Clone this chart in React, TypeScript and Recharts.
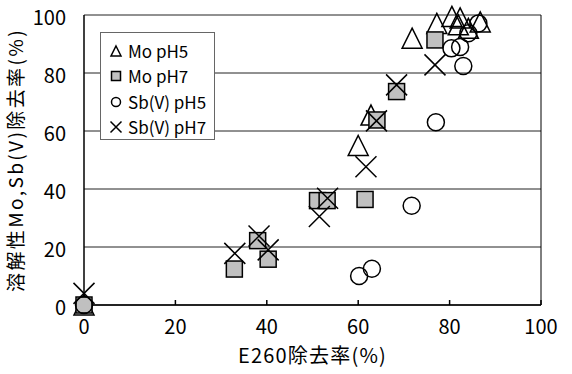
import React from 'react';
import { ScatterChart, Scatter, XAxis, YAxis, CartesianGrid, ReferenceLine, Label } from 'recharts';

const FONT = '"Noto Sans CJK JP", "Noto Sans", sans-serif';

// axis ticks
const xTicks = [0, 20, 40, 60, 80, 100];
const yTicks = [0, 20, 40, 60, 80, 100];

// Mo pH5 (triangles)
const moPh5X = [0, 60, 62.8, 71.8, 77.2, 80.5, 82.3, 81.9, 84.1, 86.7];
const moPh5Y = [0, 55, 65.5, 92, 97.1, 99.5, 99, 96.6, 95.4, 97.6];

// Mo pH7 (grey squares)
const moPh7X = [0, 32.9, 38, 40.3, 51.1, 53.2, 61.5, 64.1, 68.4, 76.8];
const moPh7Y = [0, 12.4, 22.2, 15.8, 36, 36, 36.4, 63.8, 73.6, 91.4];

// Sb(V) pH5 (circles)
const sbPh5X = [0, 60.2, 63, 71.7, 77, 80.4, 82.3, 83, 84.1, 86.3];
const sbPh5Y = [0, 10, 12.5, 34.2, 63, 88.5, 89, 82.4, 93.7, 97.1];

// Sb(V) pH7 (crosses)
const sbPh7X = [0, 33, 38.3, 40.3, 51.5, 53.3, 61.7, 64, 68.4, 76.8];
const sbPh7Y = [4, 17.8, 23.8, 19, 30.5, 36.8, 47.7, 63.5, 75.9, 82.8];

const zip = (xs: number[], ys: number[]) => xs.map((x, i) => ({ x, y: ys[i] }));

const TriangleMark = ({ cx, cy, s = 10 }: any) => (
  <path d={`M${cx},${cy - s}L${cx + s},${cy + s}L${cx - s},${cy + s}Z`} fill="none" stroke="#000" strokeWidth={1.5} />
);
const SquareMark = ({ cx, cy, s = 8 }: any) => (
  <rect x={cx - s} y={cy - s} width={s * 2} height={s * 2} fill="#c0c0c0" stroke="#000" strokeWidth={1.5} />
);
const CircleMark = ({ cx, cy, s = 8.5 }: any) => (
  <circle cx={cx} cy={cy} r={s} fill="none" stroke="#000" strokeWidth={1.5} />
);
const CrossMark = ({ cx, cy, s = 10.5 }: any) => (
  <path d={`M${cx - s},${cy - s}L${cx + s},${cy + s}M${cx + s},${cy - s}L${cx - s},${cy + s}`} stroke="#000" strokeWidth={1.5} />
);

const legendItems = [
  { name: 'Mo pH5', Mark: TriangleMark, s: 5 },
  { name: 'Mo pH7', Mark: SquareMark, s: 4.5 },
  { name: 'Sb(V) pH5', Mark: CircleMark, s: 4.5 },
  { name: 'Sb(V) pH7', Mark: CrossMark, s: 5.5 },
];

const YTitle = ({ viewBox }: any) => {
  const cx = viewBox.x + 14;
  const cy = viewBox.y + viewBox.height / 2;
  return (
    <text x={cx} y={cy} transform={`rotate(-90 ${cx} ${cy})`} textAnchor="middle" dominantBaseline="central"
      fontSize={19} letterSpacing={2.4} fontFamily={FONT} fill="#000">
      溶解性Mo,Sb(V)除去率(%)
    </text>
  );
};

export default function App() {
  return (
    <div style={{ position: 'absolute', left: 0, top: 0, width: 572, height: 374, background: '#fff' }}>
      <ScatterChart width={572} height={374} margin={{ top: 15, right: 31, bottom: 0, left: 0 }}>
        <CartesianGrid vertical={false} stroke="#222" />
        <XAxis
          type="number"
          dataKey="x"
          domain={[0, 100]}
          ticks={xTicks}
          height={69}
          tickSize={-5}
          tickMargin={20}
          stroke="#000"
          strokeWidth={1.5}
          tick={{ fill: '#000', fontSize: 20, fontFamily: FONT }}
        >
          <Label value="E260除去率(%)" position="insideBottom" offset={11} fill="#000" fontSize={20} letterSpacing={1.2} fontFamily={FONT} />
        </XAxis>
        <YAxis
          type="number"
          dataKey="y"
          domain={[0, 100]}
          ticks={yTicks}
          width={84}
          tickLine={false}
          tickSize={0}
          tickMargin={18}
          stroke="#000"
          strokeWidth={1.5}
          tick={{ fill: '#000', fontSize: 20, fontFamily: FONT, dy: 3 }}
        >
          <Label content={YTitle} />
        </YAxis>
        <ReferenceLine x={100} stroke="#000" />
        <Scatter data={zip(moPh5X, moPh5Y)} shape={(p: any) => <TriangleMark cx={p.cx} cy={p.cy} />} isAnimationActive={false} />
        <Scatter data={zip(moPh7X, moPh7Y)} shape={(p: any) => <SquareMark cx={p.cx} cy={p.cy} />} isAnimationActive={false} />
        <Scatter data={zip(sbPh5X, sbPh5Y)} shape={(p: any) => <CircleMark cx={p.cx} cy={p.cy} />} isAnimationActive={false} />
        <Scatter data={zip(sbPh7X, sbPh7Y)} shape={(p: any) => <CrossMark cx={p.cx} cy={p.cy} />} isAnimationActive={false} />
      </ScatterChart>
      <div
        style={{
          position: 'absolute', left: 100, top: 32, width: 115, height: 108, boxSizing: 'border-box',
          background: '#fff', border: '1px solid #666', paddingTop: 5, fontFamily: FONT, fontSize: 17, color: '#000',
        }}
      >
        {legendItems.map(({ name, Mark, s }) => (
          <div key={name} style={{ display: 'flex', alignItems: 'center', height: 25.5 }}>
            <svg width={26} height={20} style={{ flex: 'none' }}>
              <Mark cx={15} cy={10} s={s} />
            </svg>
            <span style={{ marginLeft: 1, lineHeight: '20px' }}>{name}</span>
          </div>
        ))}
      </div>
    </div>
  );
}
